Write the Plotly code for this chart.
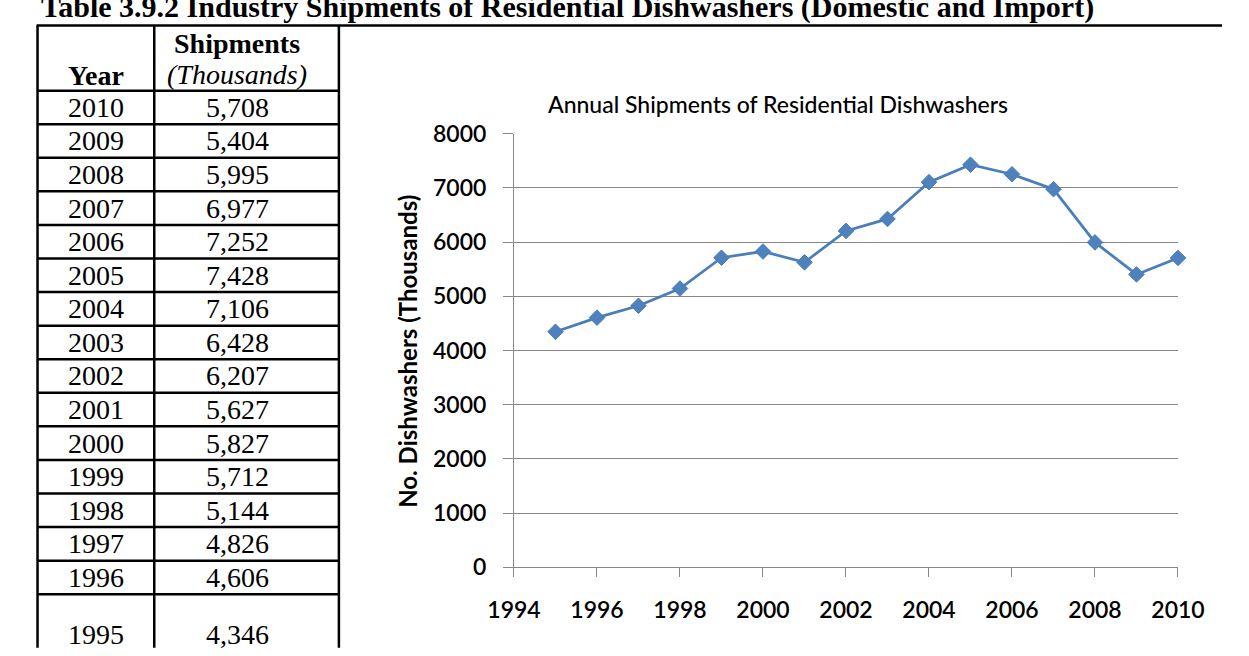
import plotly.graph_objects as go

# ---------------- data ----------------
years = [2010, 2009, 2008, 2007, 2006, 2005, 2004, 2003, 2002, 2001,
         2000, 1999, 1998, 1997, 1996, 1995]
shipments = [5708, 5404, 5995, 6977, 7252, 7428, 7106, 6428, 6207, 5627,
             5827, 5712, 5144, 4826, 4606, 4346]

doc_title = "Table 3.9.2 Industry Shipments of Residential Dishwashers (Domestic and Import)"
chart_title = "Annual Shipments of Residential Dishwashers"
y_title = "No. Dishwashers (Thousands)"
col_year = "Year"
col_ship = "Shipments"
col_units = "(Thousands)"

W, H = 1249, 656


def px(x):
    return x / W


def py(y):
    return 1 - y / H


BLUE = "#4A7EBB"
GRID = "#868686"
SERIF = "Liberation Serif"
SANS = "Lato"

fig = go.Figure()
fig.add_trace(go.Scatter(
    x=years, y=shipments, mode="lines+markers",
    line=dict(color=BLUE, width=2.75),
    marker=dict(symbol="diamond", size=12, color="#4F81BD",
                line=dict(color="#4A7EBB", width=1)),
    cliponaxis=False, showlegend=False, hoverinfo="x+y",
))

shapes = []
annotations = []

# ---------------- table ----------------
LW = 2.5
x_left, x_sep, x_right = 11, 133, 326
y_top, y_head = 11, 79
row_h = 35.07
n_regular = len(years) - 1
black = "#000000"

# top line runs across full page
shapes.append(dict(type="line", xref="paper", yref="paper",
                   x0=px(x_left - 1), x1=px(W), y0=py(y_top), y1=py(y_top),
                   line=dict(color=black, width=LW)))
for xv in (x_left, x_sep, x_right):
    shapes.append(dict(type="line", xref="paper", yref="paper",
                       x0=px(xv), x1=px(xv), y0=py(y_top), y1=py(H + 5),
                       line=dict(color=black, width=LW)))
for i in range(n_regular + 1):
    yv = y_head + i * row_h
    shapes.append(dict(type="line", xref="paper", yref="paper",
                       x0=px(x_left), x1=px(x_right), y0=py(yv), y1=py(yv),
                       line=dict(color=black, width=LW)))

c_year = (x_left + x_sep) / 2
c_ship = 220
TFS = 28

annotations.append(dict(text="<b>" + col_year + "</b>", x=px(c_year), y=py(63),
                        xref="paper", yref="paper", showarrow=False,
                        xanchor="center", yanchor="middle",
                        font=dict(family=SERIF, size=TFS, color=black)))
annotations.append(dict(text="<b>" + col_ship + "</b>", x=px(c_ship), y=py(30),
                        xref="paper", yref="paper", showarrow=False,
                        xanchor="center", yanchor="middle",
                        font=dict(family=SERIF, size=TFS, color=black)))
annotations.append(dict(text="<i>" + col_units + "</i>", x=px(c_ship), y=py(62),
                        xref="paper", yref="paper", showarrow=False,
                        xanchor="center", yanchor="middle",
                        font=dict(family=SERIF, size=TFS, color=black)))

for i, (yr, val) in enumerate(zip(years, shipments)):
    if i < n_regular:
        yc = y_head + (i + 0.5) * row_h
    else:
        yc = 647
    annotations.append(dict(text=str(yr), x=px(c_year), y=py(yc),
                            xref="paper", yref="paper", showarrow=False,
                            xanchor="center", yanchor="middle",
                            font=dict(family=SERIF, size=TFS, color=black)))
    annotations.append(dict(text=f"{val:,}", x=px(c_ship), y=py(yc),
                            xref="paper", yref="paper", showarrow=False,
                            xanchor="center", yanchor="middle",
                            font=dict(family=SERIF, size=TFS, color=black)))

# document title (clipped at the top of the page)
annotations.append(dict(text="<b>" + doc_title + "</b>", x=px(13), y=py(12),
                        xref="paper", yref="paper", showarrow=False,
                        xanchor="left", yanchor="bottom",
                        font=dict(family=SERIF, size=30, color=black)))

# ---------------- chart texts ----------------
annotations.append(dict(text=chart_title, x=px(785), y=py(93),
                        xref="paper", yref="paper", showarrow=False,
                        xanchor="center", yanchor="middle",
                        font=dict(family=SANS, size=23, color="#000000", weight=500)))
annotations.append(dict(text="<b>" + y_title + "</b>", x=px(397), y=py(351),
                        xref="paper", yref="paper", showarrow=False,
                        textangle=-90, xanchor="center", yanchor="middle",
                        font=dict(family=SANS, size=24, color="#000000")))

fig.update_layout(
    width=W, height=H,
    margin=dict(l=0, r=0, t=0, b=0),
    paper_bgcolor="white", plot_bgcolor="white",
    shapes=shapes, annotations=annotations,
    xaxis=dict(domain=[px(509), px(1203)], range=[1994, 2010],
               tick0=1994, dtick=2, showgrid=False, zeroline=False,
               showline=True, linecolor=GRID, linewidth=1,
               ticks="outside", ticklen=9, tickcolor=GRID, tickwidth=1,
               ticklabelstandoff=13,
               tickfont=dict(family=SANS, size=23, color="#000000", weight=600)),
    yaxis=dict(domain=[py(577), py(124)], range=[0, 8000],
               tick0=0, dtick=1000, showgrid=True, gridcolor=GRID, gridwidth=1,
               zeroline=False, showline=True, linecolor=GRID, linewidth=1,
               ticks="outside", ticklen=10, tickcolor=GRID, tickwidth=1,
               ticklabelstandoff=12,
               tickfont=dict(family=SANS, size=23, color="#000000", weight=600)),
)

fig.write_html("out.html")
